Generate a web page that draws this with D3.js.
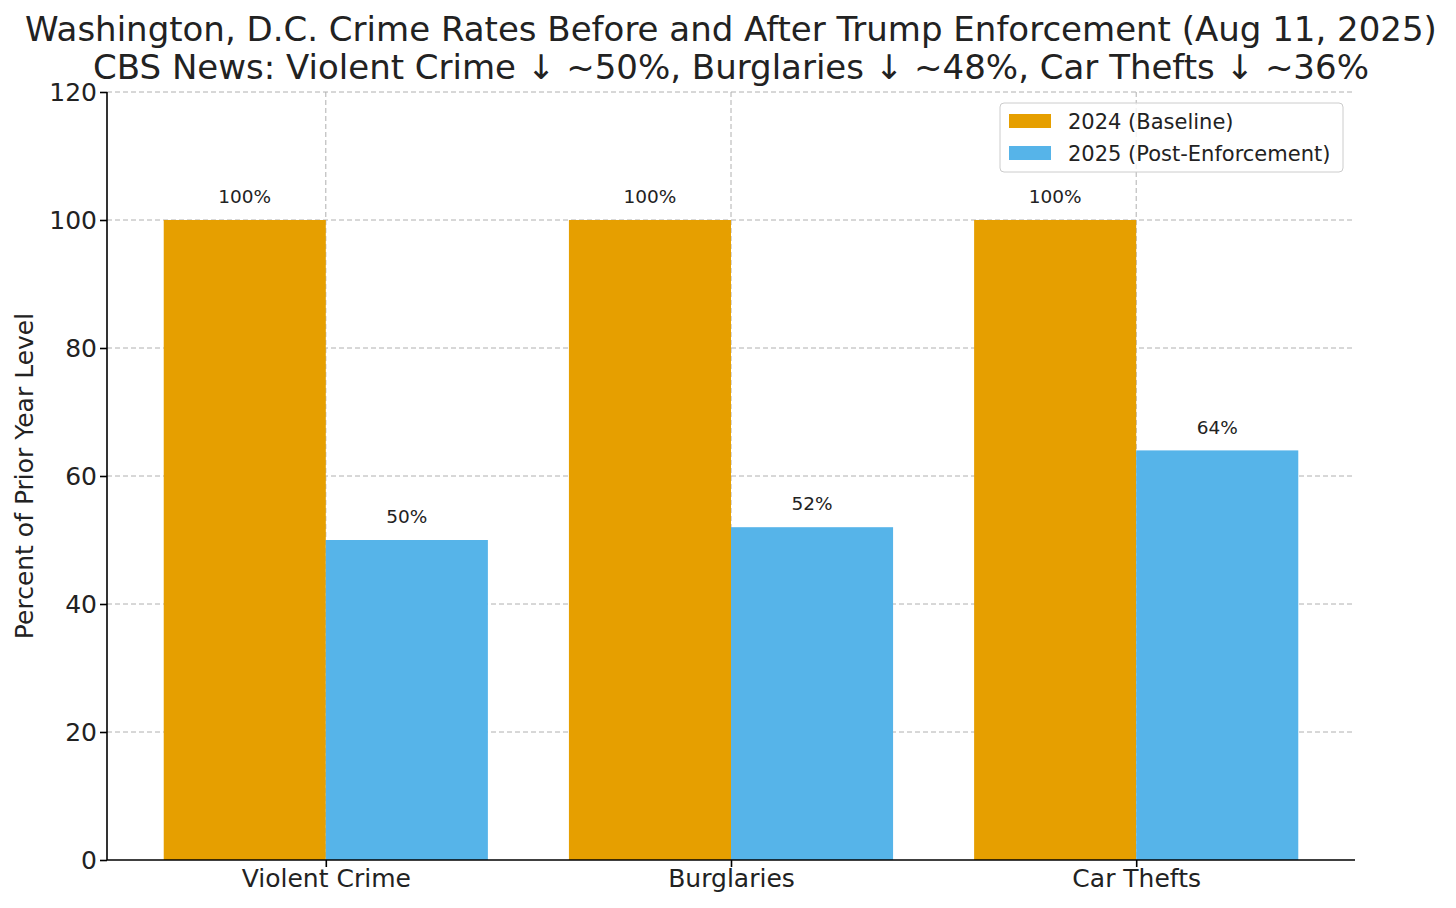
<!DOCTYPE html>
<html lang="en">
<head>
  <meta charset="UTF-8">
  <title>Washington, D.C. Crime Rates</title>
  <style>
    body { margin: 0; background: #fff; font-family: "DejaVu Sans", sans-serif; }
    .grid line { stroke: #b0b0b0; stroke-dasharray: 5,3; stroke-width: 1; }
    .axis path, .axis line { stroke: #000; stroke-width: 1.6; }
    .axis text { font-family: "DejaVu Sans", sans-serif; font-size: 25px; fill: #222; }
  </style>
</head>
<body>
  <svg width="1456" height="908"></svg>
  <script src="https://d3js.org/d3.v7.min.js"></script>
  <script>
    const categories = ["Violent Crime", "Burglaries", "Car Thefts"];
    const baseline2024 = [100, 100, 100];
    const post2025 = [50, 52, 64];
    const seriesNames = ["2024 (Baseline)", "2025 (Post-Enforcement)"];
    const colors = ["#E69F00", "#56B4E9"];
    const yTicks = [0, 20, 40, 60, 80, 100, 120];

    const svg = d3.select("svg");
    const plotL = 107, plotR = 1355, plotT = 92, plotB = 860;

    // numeric x like matplotlib: bars at i-0.4..i and i..i+0.4, 5% margins
    const x = d3.scaleLinear().domain([-0.54, 2.54]).range([plotL, plotR]);
    const y = d3.scaleLinear().domain([0, 120]).range([plotB, plotT]);
    const bw = 0.4;

    // grid
    const grid = svg.append("g").attr("class", "grid");
    grid.selectAll("line.h").data(yTicks.slice(1)).enter().append("line")
      .attr("x1", plotL).attr("x2", plotR)
      .attr("y1", d => y(d)).attr("y2", d => y(d));
    grid.selectAll("line.v").data(categories).enter().append("line")
      .attr("x1", (d, i) => x(i)).attr("x2", (d, i) => x(i))
      .attr("y1", plotT).attr("y2", plotB);

    const series = [baseline2024, post2025];
    series.forEach((vals, s) => {
      const off = s === 0 ? -bw : 0;
      svg.append("g").selectAll("rect").data(vals).enter().append("rect")
        .attr("x", (d, i) => x(i + off))
        .attr("width", x(bw) - x(0))
        .attr("y", d => y(d))
        .attr("height", d => y(0) - y(d))
        .attr("fill", colors[s]);
      svg.append("g").selectAll("text").data(vals).enter().append("text")
        .attr("x", (d, i) => x(i + off + bw / 2))
        .attr("y", d => y(d + 2) - 4)
        .attr("text-anchor", "middle")
        .style("font-size", "18.5px")
        .style("fill", "#222")
        .text(d => d + "%");
    });

    // axes
    svg.append("g").attr("class", "axis")
      .attr("transform", `translate(${plotL},0)`)
      .call(d3.axisLeft(y).tickValues(yTicks).tickSize(7).tickPadding(3))
      .call(g => g.select(".domain").attr("d", `M0,${plotB}V${plotT}`));
    svg.append("g").attr("class", "axis")
      .attr("transform", `translate(0,${plotB})`)
      .call(d3.axisBottom(x).tickValues([0, 1, 2]).tickFormat(i => categories[i]).tickSize(7).tickPadding(2))
      .call(g => g.select(".domain").attr("d", `M${plotL},0H${plotR}`));

    svg.append("text")
      .attr("transform", `translate(33,${(plotT + plotB) / 2}) rotate(-90)`)
      .attr("text-anchor", "middle")
      .style("font-size", "25px").style("fill", "#222")
      .text("Percent of Prior Year Level");

    // title
    const title = svg.append("text").attr("text-anchor", "middle")
      .style("font-size", "34px").style("fill", "#222");
    title.append("tspan").attr("x", 731).attr("y", 41)
      .text("Washington, D.C. Crime Rates Before and After Trump Enforcement (Aug 11, 2025)");
    title.append("tspan").attr("x", 731).attr("y", 79)
      .text("CBS News: Violent Crime \u2193 ~50%, Burglaries \u2193 ~48%, Car Thefts \u2193 ~36%");

    // legend
    const lg = svg.append("g").attr("transform", "translate(1000,103)");
    lg.append("rect").attr("width", 343).attr("height", 69).attr("rx", 4)
      .attr("fill", "#fff").attr("fill-opacity", 0.8).attr("stroke", "#ccc");
    seriesNames.forEach((n, i) => {
      lg.append("rect").attr("x", 9).attr("y", 11 + i * 32).attr("width", 42).attr("height", 14)
        .attr("fill", colors[i]);
      lg.append("text").attr("x", 68).attr("y", 26 + i * 32)
        .style("font-size", "21px").style("fill", "#222").text(n);
    });
  </script>
</body>
</html>
